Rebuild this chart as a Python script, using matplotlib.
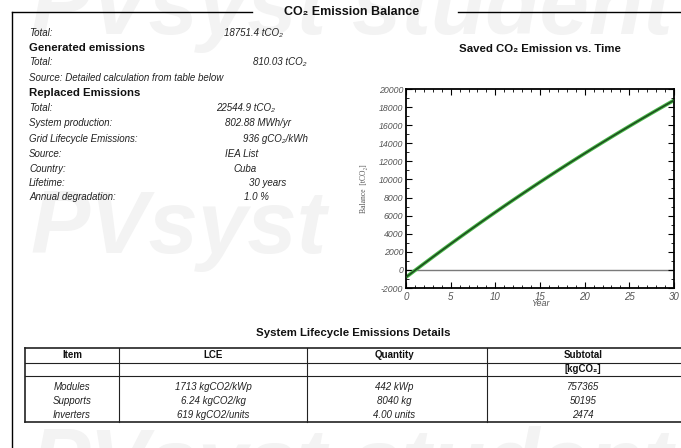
import matplotlib
matplotlib.use("Agg")
import matplotlib.pyplot as plt
from matplotlib.patches import Rectangle
from matplotlib.ticker import MultipleLocator

plt.rcParams['font.family'] = ['Liberation Sans', 'DejaVu Sans']
plt.rcParams['axes.unicode_minus'] = False

# ---- data -------------------------------------------------------------
years = list(range(31))
balance = [-810, -59, 686, 1422, 2151, 2873, 3588, 4295, 4996, 5689,
           6376, 7055, 7728, 8394, 9054, 9707, 10353, 10993, 11626, 12253,
           12874, 13489, 14097, 14700, 15296, 15887, 16471, 17050, 17623,
           18190, 18751]

summary_labels = ["Total:", "Generated emissions", "Total:",
                  "Source: Detailed calculation from table below",
                  "Replaced Emissions", "Total:", "System production:",
                  "Grid Lifecycle Emissions:", "Source:", "Country:",
                  "Lifetime:", "Annual degradation:"]
summary_values = ["18751.4 tCO₂", "", "810.03 tCO₂", "", "",
                  "22544.9 tCO₂", "802.88 MWh/yr", "936 gCO₂/kWh",
                  "IEA List", "Cuba", "30 years", "1.0 %"]
summary_bold = [False, True, False, False, True, False, False, False,
                False, False, False, False]

table_header = ["Item", "LCE", "Quantity", "Subtotal"]
table_units = ["", "", "", "[kgCO₂]"]
items = ["Modules", "Supports", "Inverters"]
lce = ["1713 kgCO2/kWp", "6.24 kgCO2/kg", "619 kgCO2/units"]
quantity = ["442 kWp", "8040 kg", "4.00 units"]
subtotal = ["757365", "50195", "2474"]

# ---- page --------------------------------------------------------------
W, H = 681, 448
fig = plt.figure(figsize=(W / 100, H / 100), dpi=100)
fig.patch.set_facecolor("white")

pg = fig.add_axes([0, 0, 1, 1], zorder=0)
pg.set_xlim(0, W)
pg.set_ylim(H, 0)
pg.axis("off")

# background watermark
wm = dict(fontsize=64, fontweight="bold", fontstyle="italic",
          color="#f3f3f3", va="baseline", ha="left", zorder=0)
for wy in [34, 253, 491]:
    pg.text(30, wy, "PVsyst", **wm)
    pg.text(352, wy, "student", **wm)

# white backdrop of the chart block
pg.add_patch(Rectangle((345, 66), W - 345, 246, facecolor="white",
                       edgecolor="none", zorder=1))

# page frame and heading
pg.plot([12, 12], [12, H], color="black", lw=1.0, zorder=2)
pg.plot([12, 252], [12, 12], color="black", lw=1.0, zorder=2)
pg.plot([458, W], [12, 12], color="black", lw=1.0, zorder=2)
pg.text(352, 12, "CO₂ Emission Balance", fontsize=9, fontweight="bold",
        ha="center", va="center", color="#111", zorder=3)

# summary block
row_y = [33, 48, 62, 78, 93, 108, 123, 139, 154, 169, 183, 197]
value_x = [224, 0, 253, 0, 0, 216, 225, 243, 225, 233, 249, 244]
for lab, val, b, y, vx in zip(summary_labels, summary_values,
                              summary_bold, row_y, value_x):
    if b:
        pg.text(29, y, lab, fontsize=8.2, fontweight="bold",
                ha="left", va="center", color="#111", zorder=3)
    else:
        pg.text(29, y, lab, fontsize=7.0, fontstyle="italic",
                ha="left", va="center", color="#222", zorder=3)
    if val:
        pg.text(vx, y, val, fontsize=7.0, fontstyle="italic",
                ha="left", va="center", color="#222", zorder=3)

# chart title
pg.text(540, 49, "Saved CO₂ Emission vs. Time", fontsize=8.2,
        fontweight="bold", ha="center", va="center", color="#111", zorder=3)

# ---- balance chart -----------------------------------------------------
x0, x1, y0, y1 = 406, 674, 89, 288
ax = fig.add_axes([x0 / W, (H - y1) / H, (x1 - x0) / W, (y1 - y0) / H],
                  zorder=1)
ax.set_facecolor("white")
ax.axhline(0, color="#7a7a7a", lw=1.0, zorder=1)
ax.plot(years, balance, color="#48b848", lw=2.6, zorder=2,
        solid_capstyle="butt")
ax.plot(years, balance, color="#1d4a1d", lw=1.1, zorder=3)
ax.set_xlim(0, 30)
ax.set_ylim(-2000, 20000)
ax.xaxis.set_major_locator(MultipleLocator(5))
ax.xaxis.set_minor_locator(MultipleLocator(1))
ax.yaxis.set_major_locator(MultipleLocator(2000))
ax.yaxis.set_minor_locator(MultipleLocator(1000))
ax.tick_params(which="both", direction="in", top=True, right=True,
               colors="black", labelcolor="#555", pad=2)
ax.tick_params(axis="y", labelsize=6.3)
ax.tick_params(axis="x", labelsize=7.0, pad=3)
ax.tick_params(which="major", length=4, width=0.8)
ax.tick_params(which="minor", length=2, width=0.6)
for lbl in ax.get_xticklabels() + ax.get_yticklabels():
    lbl.set_fontstyle("italic")
for s in ax.spines.values():
    s.set_linewidth(1.3)
    s.set_color("black")
ax.set_xlabel("Year", fontsize=6.5, fontstyle="italic", color="#555",
              labelpad=-2)
ax.set_ylabel("Balance  [tCO₂]", fontsize=5.5, color="#555",
              family=["Liberation Serif", "DejaVu Serif"], labelpad=8)

# ---- lifecycle table ---------------------------------------------------
pg.text(353, 333, "System Lifecycle Emissions Details", fontsize=8.2,
        fontweight="bold", ha="center", va="center", color="#111", zorder=3)

col_edges = [25, 119, 307, 487, W + 2]
col_cx = [72, 213, 394, 583]
t_top, t_sep1, t_sep2, t_bot = 348, 363, 376, 422
lc = "#222"
pg.plot([col_edges[0], col_edges[-1]], [t_top, t_top], color=lc, lw=1.2, zorder=3)
pg.plot([col_edges[0], col_edges[-1]], [t_bot, t_bot], color=lc, lw=1.2, zorder=3)
pg.plot([col_edges[0], col_edges[-1]], [t_sep1, t_sep1], color=lc, lw=0.8, zorder=3)
pg.plot([col_edges[0], col_edges[-1]], [t_sep2, t_sep2], color=lc, lw=0.8, zorder=3)
for i, cx in enumerate(col_edges[:-1]):
    pg.plot([cx, cx], [t_top, t_bot], color=lc, lw=1.2 if i == 0 else 0.8,
            zorder=3)

for cx, h, u in zip(col_cx, table_header, table_units):
    pg.text(cx, (t_top + t_sep1) / 2, h, fontsize=7.0, fontweight="bold",
            ha="center", va="center", color="#111", zorder=4)
    if u:
        pg.text(cx, (t_sep1 + t_sep2) / 2, u, fontsize=7.0, fontweight="bold",
                ha="center", va="center", color="#111", zorder=4)

data_y = [387, 401, 415]
for y, row in zip(data_y, zip(items, lce, quantity, subtotal)):
    for cx, cell in zip(col_cx, row):
        pg.text(cx, y, cell, fontsize=7.0, fontstyle="italic",
                ha="center", va="center", color="#222", zorder=4)

fig.savefig("out.png", dpi=100, facecolor="white")
